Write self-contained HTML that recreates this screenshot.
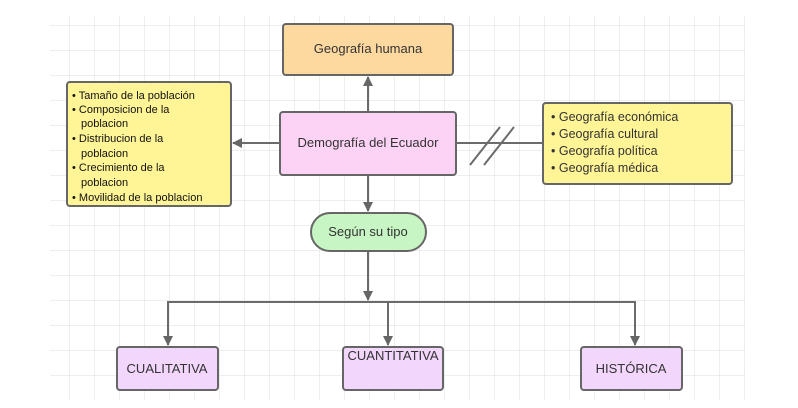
<!DOCTYPE html>
<html><head><meta charset="utf-8"><style>
body{margin:0;background:#fff;}
svg{display:block;font-family:"Liberation Sans",Arial,sans-serif;}
</style></head><body>
<svg width="798" height="408" viewBox="0 0 798 408" xmlns="http://www.w3.org/2000/svg">
<defs>
<pattern id="g" x="19" y="0" width="25" height="25" patternUnits="userSpaceOnUse">
<path d="M0 0H25M0 0V25" stroke="#dedede" stroke-width="1" fill="none"/>
</pattern>
<marker id="a" markerWidth="10" markerHeight="10" refX="9" refY="5" orient="auto" markerUnits="userSpaceOnUse">
<path d="M0 0L10 5L0 10Z" fill="#666"/>
</marker>
</defs>
<rect x="50" y="16" width="695" height="384" fill="url(#g)"/>
<g stroke="#6b6b6b" stroke-width="2" fill="none">
<line x1="368" y1="112" x2="368" y2="77" marker-end="url(#a)"/>
<line x1="280" y1="143" x2="233" y2="143" marker-end="url(#a)"/>
<line x1="456" y1="143" x2="543" y2="143"/>
<line x1="470" y1="165" x2="500" y2="127"/>
<line x1="484" y1="165" x2="514" y2="127"/>
<line x1="368" y1="175" x2="368" y2="211" marker-end="url(#a)"/>
<line x1="368" y1="251" x2="368" y2="300" marker-end="url(#a)"/>
<path d="M168 345V302H635V345"/>
<line x1="168" y1="302" x2="168" y2="345" marker-end="url(#a)"/>
<line x1="388" y1="302" x2="388" y2="345" marker-end="url(#a)"/>
<line x1="635" y1="302" x2="635" y2="345" marker-end="url(#a)"/>
</g>
<g stroke="#666" stroke-width="2">
<rect x="283" y="24" width="170" height="51" rx="3" fill="#fdd9a0"/>
<rect x="280" y="112" width="176" height="63" rx="3" fill="#fdd3f5"/>
<rect x="67" y="82" width="164" height="124" rx="3" fill="#fff597"/>
<rect x="543" y="103" width="189" height="81" rx="3" fill="#fff597"/>
<rect x="311" y="213" width="115" height="38" rx="19" fill="#c8f5c4"/>
<rect x="117" y="347" width="101" height="43" rx="3" fill="#f2d6fc"/>
<rect x="343" y="347" width="100" height="43" rx="3" fill="#f2d6fc"/>
<rect x="581" y="347" width="101" height="43" rx="3" fill="#f2d6fc"/>
</g>
<g fill="#333" font-size="13" text-anchor="middle">
<text x="368" y="53">Geografía humana</text>
<text x="368" y="147">Demografía del Ecuador</text>
<text x="368" y="236">Según su tipo</text>
<text x="167" y="373">CUALITATIVA</text>
<text x="393" y="360">CUANTITATIVA</text>
<text x="631" y="373">HISTÓRICA</text>
</g>
<g fill="#111" font-size="11">
<text x="72" y="99">• Tamaño de la población</text>
<text x="72" y="113">• Composicion de la</text>
<text x="81" y="127">poblacion</text>
<text x="72" y="142">• Distribucion de la</text>
<text x="81" y="157">poblacion</text>
<text x="72" y="171">•  Crecimiento de la</text>
<text x="81" y="186">poblacion</text>
<text x="72" y="201">•  Movilidad de la poblacion</text>
</g>
<g fill="#333" font-size="12.5">
<text x="551" y="121">• Geografía económica</text>
<text x="551" y="138">• Geografía cultural</text>
<text x="551" y="155">• Geografía política</text>
<text x="551" y="172">• Geografía médica</text>
</g>
</svg>
</body></html>
